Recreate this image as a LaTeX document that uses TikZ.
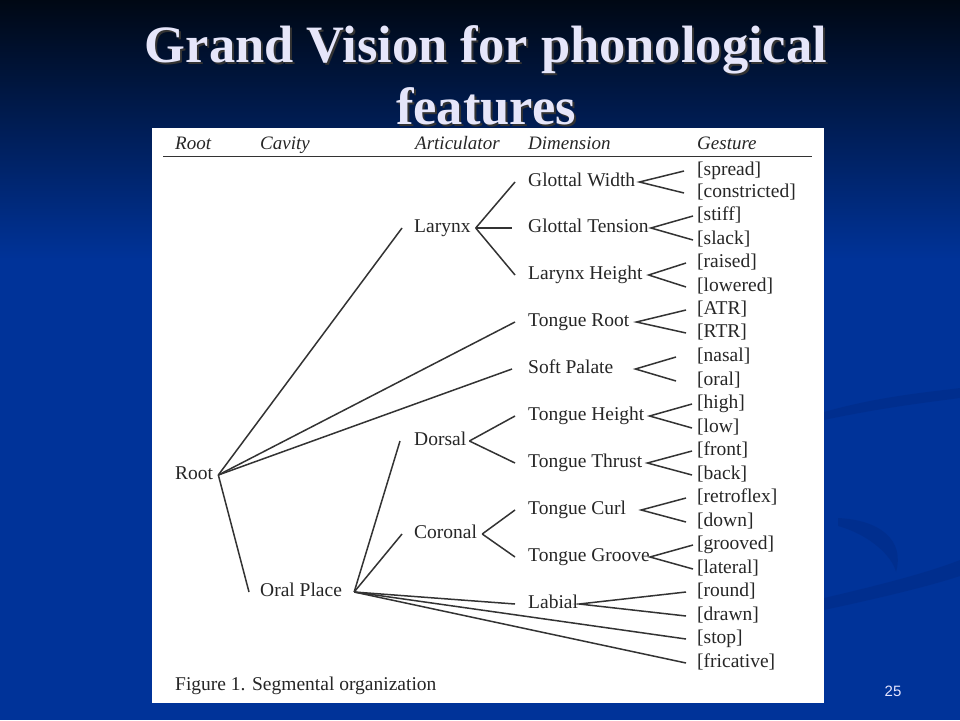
\documentclass[tikz,border=0pt]{standalone}
\usepackage{fontspec}
\setmainfont{Liberation Serif}
\newfontfamily\numfont{Liberation Sans}
\definecolor{slidetop}{HTML}{000814}
\definecolor{slideblue}{HTML}{003399}
\definecolor{swoosh}{HTML}{00287F}
\definecolor{titlefg}{HTML}{E6E6FA}
\definecolor{treeline}{HTML}{333333}
\tikzset{
  lbl/.style={anchor=west,inner xsep=0pt,inner ysep=1pt,text height=13.5pt,text depth=4pt,font=\fontsize{19.5}{22}\selectfont,text=black!85},
  hdr/.style={lbl,font=\fontsize{19}{22}\selectfont\itshape},
  branch/.style={draw=treeline,line width=1.5pt},
  ttl/.style={anchor=base,font=\fontsize{52.5}{60}\selectfont\bfseries}
}
\begin{document}
\begin{tikzpicture}[x=1pt,y=-1pt]
  \useasboundingbox (0,0) rectangle (960,720);
  % slide background
  \fill[slideblue] (0,0) rectangle (960,720);
  \shade[top color=slidetop,bottom color=slideblue] (0,0) rectangle (960,260);
  \fill[swoosh,opacity=.4] (824,412) .. controls (880,396) and (930,392) .. (960,388) -- (960,398) .. controls (930,402) and (880,408) .. (824,420) -- cycle;
  \fill[swoosh,opacity=.4] (838,518) .. controls (880,520) and (905,540) .. (896,572) .. controls (892,556) and (870,535) .. (838,526) -- cycle;
  \fill[swoosh,opacity=.4] (824,598) .. controls (880,585) and (930,572) .. (960,560) -- (960,576) .. controls (930,586) and (880,598) .. (824,610) -- cycle;
  % title
  \foreach \n/\t/\y in {title1/Grand Vision for phonological/62, title2/features/124}{
    \node[ttl,text=black!80] (\n s) at (488,\y+2) {\t};
    \node[ttl,text=titlefg] (\n) at (486,\y) {\t};
  }
  \node[font=\numfont\fontsize{15}{18}\selectfont,text=white!90!blue] (page) at (893,691) {25};
  % figure panel
  \fill[white] (152,128) rectangle (824,703);
  \node[hdr] (hroot) at (175,145) {Root};
  \node[hdr] (hcav) at (260,145) {Cavity};
  \node[hdr] (hart) at (415,145) {Articulator};
  \node[hdr] (hdim) at (528,145) {Dimension};
  \node[hdr] (hges) at (697,145) {Gesture};
  \draw[treeline,line width=1pt] (163,156) -- (812,156);
  % tree nodes
  \node[lbl] (root) at (175,475) {Root};
  \node[lbl] (oral) at (260,592) {Oral Place};
  \node[lbl] (larynx) at (414,228) {Larynx};
  \node[lbl] (dorsal) at (414,441) {Dorsal};
  \node[lbl] (coronal) at (414,534) {Coronal};
  \node[lbl] (gw) at (528,182) {Glottal Width};
  \node[lbl] (gt) at (528,228) {Glottal Tension};
  \node[lbl] (lh) at (528,275) {Larynx Height};
  \node[lbl] (tr) at (528,322) {Tongue Root};
  \node[lbl] (sp) at (528,369) {Soft Palate};
  \node[lbl] (th) at (528,416) {Tongue Height};
  \node[lbl] (tt) at (528,463) {Tongue Thrust};
  \node[lbl] (tc) at (528,510) {Tongue Curl};
  \node[lbl] (tg) at (528,557) {Tongue Groove};
  \node[lbl] (lab) at (528,604) {Labial};
  \node[lbl] (spread) at (697,171) {[spread]};
  \node[lbl] (constr) at (697,193) {[constricted]};
  \node[lbl] (stiff) at (697,216) {[stiff]};
  \node[lbl] (slack) at (697,240) {[slack]};
  \node[lbl] (raised) at (697,263) {[raised]};
  \node[lbl] (lowered) at (697,287) {[lowered]};
  \node[lbl] (atr) at (697,310) {[ATR]};
  \node[lbl] (rtr) at (697,333) {[RTR]};
  \node[lbl] (nasal) at (697,357) {[nasal]};
  \node[lbl] (goral) at (697,381) {[oral]};
  \node[lbl] (high) at (697,404) {[high]};
  \node[lbl] (low) at (697,428) {[low]};
  \node[lbl] (front) at (697,451) {[front]};
  \node[lbl] (back) at (697,475) {[back]};
  \node[lbl] (retro) at (697,498) {[retroflex]};
  \node[lbl] (down) at (697,522) {[down]};
  \node[lbl] (groov) at (697,545) {[grooved]};
  \node[lbl] (later) at (697,569) {[lateral]};
  \node[lbl] (round) at (697,592) {[round]};
  \node[lbl] (drawn) at (697,616) {[drawn]};
  \node[lbl] (stop) at (697,639) {[stop]};
  \node[lbl] (fric) at (697,663) {[fricative]};
  \node[lbl] (caption) at (175,686) {Figure 1. Segmental organization};
  % branches
  \foreach \x/\y/\l/\r in {root/larynx/5/12, root/tr/5/13, root/sp/5/16, root/oral/5/11,
      larynx/gw/5/13, larynx/gt/5/16, larynx/lh/5/13,
      oral/dorsal/12/14, oral/coronal/12/12, oral/lab/12/13, oral/stop/12/11, oral/fric/12/11,
      dorsal/th/3/13, dorsal/tt/3/13, coronal/tc/5/13, coronal/tg/5/13}{
    \draw[branch] ([xshift=\l pt]\x.east) -- ([xshift=-\r pt]\y.west);
  }
  \foreach \d/\a/\b/\l/\r in {gw/spread/constr/4/13, gt/stiff/slack/2/4, lh/raised/lowered/6/11,
      tr/atr/rtr/7/11, sp/nasal/goral/22/21, th/high/low/5/5, tt/front/back/5/5,
      tc/retro/down/15/11, tg/groov/later/0/4, lab/round/drawn/1/11}{
    \draw[branch] ([xshift=-\r pt]\a.west) -- ([xshift=\l pt]\d.east) -- ([xshift=-\r pt]\b.west);
  }
\end{tikzpicture}
\end{document}
